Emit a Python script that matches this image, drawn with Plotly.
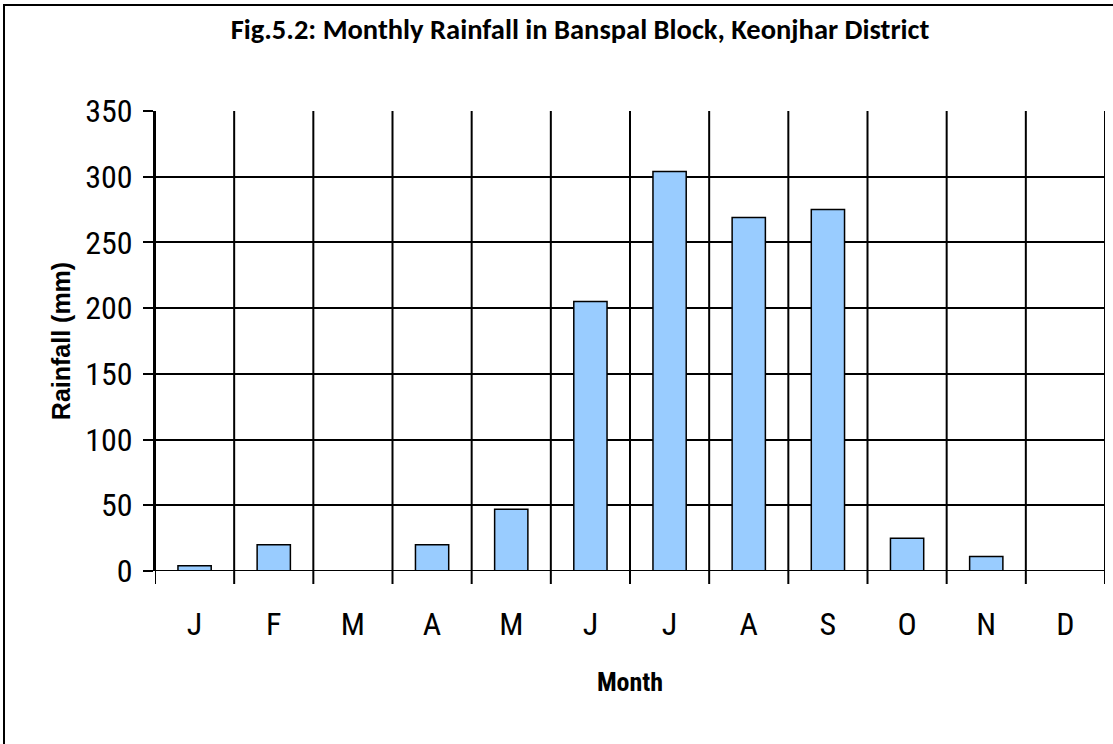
import plotly.graph_objects as go

months = ["J", "F", "M", "A", "M", "J", "J", "A", "S", "O", "N", "D"]
rainfall = [4, 20, 0, 20, 47, 205, 304, 269, 275, 25, 11, 0]
y_ticks = [0, 50, 100, 150, 200, 250, 300, 350]

x_pos = list(range(len(months)))

W, H = 1113, 744
L, R, T, B = 155, 8, 111, 173

fig = go.Figure()
fig.add_trace(go.Bar(
    x=x_pos, y=rainfall,
    marker=dict(color="#99CCFF", line=dict(color="black", width=1.5)),
    width=0.42,
))

narrow = "Roboto Condensed, Liberation Sans Narrow, Arial Narrow, sans-serif"

fig.update_layout(
    width=W, height=H,
    margin=dict(l=L, r=R, t=T, b=B, autoexpand=False),
    paper_bgcolor="white", plot_bgcolor="white",
    showlegend=False,
    title=dict(text="<b>Fig.5.2: Monthly Rainfall in Banspal Block, Keonjhar District</b>",
               x=580 / W, xanchor="center", y=1 - 29 / H, yanchor="middle",
               font=dict(family="Carlito, Lato, sans-serif", size=28.5, color="black")),
    xaxis=dict(
        tickmode="array", tickvals=x_pos, ticktext=months,
        range=[-0.5, 11.5],
        showgrid=False, zeroline=False,
        showline=False,
        ticks="", ticklabelstandoff=31,
        tickfont=dict(family=narrow, size=32, color="black"),
        title=dict(text="<b>Month</b>", font=dict(family=narrow, size=26, color="black"), standoff=30),
    ),
    yaxis=dict(
        range=[0, 350], tickvals=y_ticks,
        showgrid=True, gridcolor="black", gridwidth=2,
        zeroline=False, showline=True, linecolor="black", linewidth=2,
        ticks="outside", ticklen=10, tickwidth=2, tickcolor="black",
        ticklabelstandoff=4,
        tickfont=dict(family=narrow, size=32, color="black"),
        title=dict(text="<b>Rainfall (mm)</b>", font=dict(family="Liberation Sans, Arial, sans-serif", size=25, color="black"), standoff=7),
    ),
)

pw, ph = W - L - R, H - T - B
def px(xp):
    return (xp - L) / pw
def py(yp):
    return (H - B - yp) / ph

shapes = []
# vertical category boundary lines extending below the axis as tick marks
for b in [i - 0.5 for i in range(len(months) + 1)]:
    shapes.append(dict(type="line", xref="x", yref="paper", x0=b, x1=b, y0=-13 / ph, y1=1,
                       line=dict(color="black", width=2), layer="below"))
# x axis line
shapes.append(dict(type="line", xref="paper", yref="y", x0=-10 / pw, x1=1, y0=0, y1=0,
                   line=dict(color="black", width=2), layer="above"))
# outer chart border
shapes.append(dict(type="rect", xref="paper", yref="paper",
                   x0=px(4), x1=px(W + 5), y0=py(H + 5), y1=py(5),
                   line=dict(color="black", width=2), fillcolor="rgba(0,0,0,0)"))
fig.update_layout(shapes=shapes)

fig.write_html("out.html", post_script="document.body.style.margin='0';",
               config={"displayModeBar": False})
